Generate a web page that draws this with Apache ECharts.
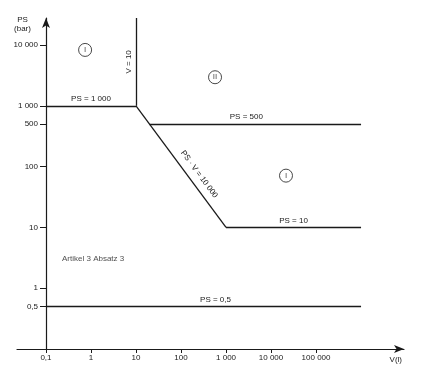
<!DOCTYPE html>
<html>
<head>
<meta charset="utf-8">
<script src="https://cdn.jsdelivr.net/npm/echarts@6/dist/echarts.min.js"></script>
<style>html,body{margin:0;padding:0;background:#fff}#c{width:424px;height:387px}</style>
</head>
<body>
<div id="c"></div>
<script>
// Tick values and labels
const xTicks = [0.1, 1, 10, 100, 1000, 10000, 100000];
const xTickLabels = ['0,1', '1', '10', '100', '1 000', '10 000', '100 000'];
const yTicks = [0.5, 1, 10, 100, 500, 1000, 10000];
const yTickLabels = ['0,5', '1', '10', '100', '500', '1 000', '10 000'];

// Boundary lines (V in litres, PS in bar)
const boundaryNames = ['PS = 1 000', 'V = 10', 'PS · V = 10 000', 'PS = 500', 'PS = 10', 'PS = 0,5'];
const boundaryV = [[0.1, 10], [10, 10], [10, 1000], [20, 1000000], [1000, 1000000], [0.1, 1000000]];
const boundaryPS = [[1000, 1000], [1000, 27800], [1000, 10], [500, 500], [10, 10], [0.5, 0.5]];

// Region markers
const regionLabels = ['I', 'II', 'I'];
const regionV = [0.74, 570, 21500];
const regionPS = [8300, 2950, 71];

// Note
const noteText = ['Artikel 3 Absatz 3'];
const noteV = [0.227];
const notePS = [3.0];

const INK = '#1a1a1a';
const FONT = 'Liberation Sans';

function nearestLabel(v, ticks, labels) {
  let best = 0, bd = Infinity;
  ticks.forEach((t, i) => {
    const d = Math.abs(Math.log10(v) - Math.log10(t));
    if (d < bd) { bd = d; best = i; }
  });
  return labels[best];
}

const labelPads = [[0,0,0,0],[0,0,0,0],[0,0,0,34],[0,18,0,0],[0,0,0,0],[0,0,0,24]];
const labelDist = [3, 3, 6, 3, 3, 3];

const markData = boundaryNames.map((n, i) => [
  { coord: [boundaryV[i][0], boundaryPS[i][0]],
    label: { formatter: n, padding: labelPads[i], distance: labelDist[i] } },
  { coord: [boundaryV[i][1], boundaryPS[i][1]] }
]);

const chart = echarts.init(document.getElementById('c'), null, { renderer: 'canvas' });
chart.setOption({
  animation: false,
  backgroundColor: '#fff',
  textStyle: { fontFamily: FONT },
  grid: { left: 17, right: 20, top: 18, bottom: 38, containLabel: false },
  xAxis: {
    type: 'log', logBase: 10, min: 0.0227, max: 9000000,
    name: 'V(l)', nameLocation: 'end', nameGap: -2,
    nameTextStyle: { color: INK, fontSize: 8, fontFamily: FONT, align: 'right', verticalAlign: 'top', padding: [7, 0, 0, 0] },
    axisLine: { show: true, lineStyle: { color: INK, width: 1.2 }, symbol: ['none', 'arrow'], symbolSize: [6, 10] },
    axisTick: { show: true, length: 4, inside: false, customValues: xTicks, lineStyle: { color: INK } },
    axisLabel: { show: true, customValues: xTicks, margin: 5, color: INK, fontSize: 8, fontFamily: FONT,
      formatter: v => nearestLabel(v, xTicks, xTickLabels) },
    splitLine: { show: false }, minorTick: { show: false }
  },
  yAxis: {
    type: 'log', logBase: 10, min: 0.1, max: 27800, offset: -29,
    name: 'PS\n(bar)', nameLocation: 'end', nameGap: 3,
    nameTextStyle: { color: INK, fontSize: 8, fontFamily: FONT, align: 'center', verticalAlign: 'top', lineHeight: 9, padding: [0, 47, 0, 0] },
    axisLine: { show: true, lineStyle: { color: INK, width: 1.2 }, symbol: ['none', 'arrow'], symbolSize: [6, 10] },
    axisTick: { show: true, length: 6, inside: false, customValues: yTicks, lineStyle: { color: INK } },
    axisLabel: { show: true, customValues: yTicks, margin: 8, color: INK, fontSize: 8, fontFamily: FONT,
      formatter: v => nearestLabel(v, yTicks, yTickLabels) },
    splitLine: { show: false }, minorTick: { show: false }
  },
  series: [
    {
      type: 'line', data: [], silent: true,
      markLine: {
        silent: true, symbol: ['none', 'none'], animation: false,
        lineStyle: { color: INK, width: 1.3, type: 'solid' },
        label: { show: true, position: 'middle', color: INK, fontSize: 8, fontFamily: FONT, distance: 3 },
        emphasis: { disabled: true },
        data: markData
      }
    },
    {
      type: 'scatter', silent: true, symbol: 'circle', symbolSize: 13,
      itemStyle: { color: '#fff', borderColor: INK, borderWidth: 1 },
      label: { show: true, position: 'inside', color: INK, fontSize: 8, fontFamily: FONT,
        formatter: p => regionLabels[p.dataIndex] },
      data: regionV.map((v, i) => [v, regionPS[i]])
    },
    {
      type: 'scatter', silent: true, symbolSize: 0,
      label: { show: true, position: 'right', distance: 0, color: INK, fontSize: 8, fontFamily: FONT,
        formatter: p => noteText[p.dataIndex] },
      data: noteV.map((v, i) => [v, notePS[i]])
    }
  ]
});
</script>
</body>
</html>
